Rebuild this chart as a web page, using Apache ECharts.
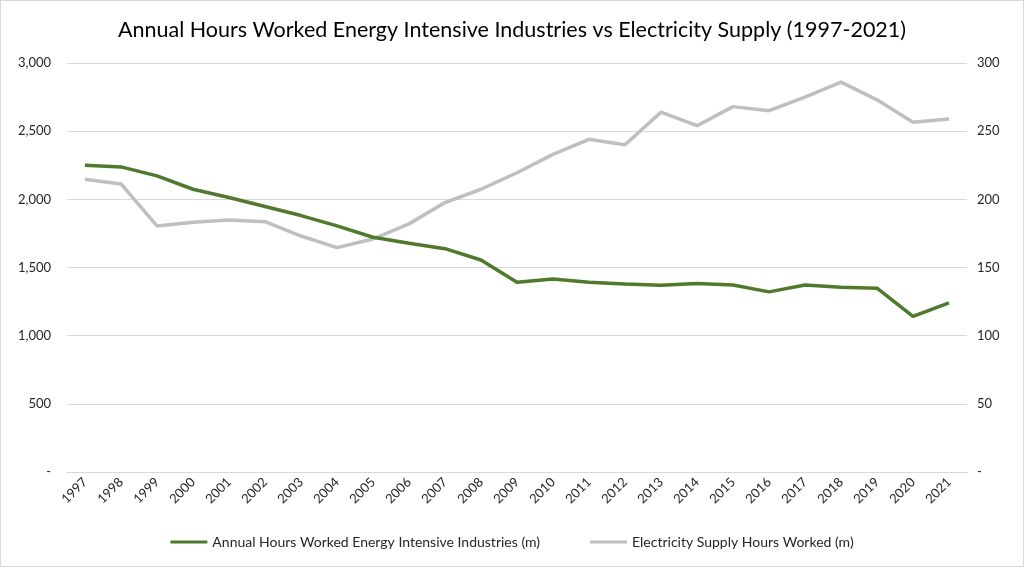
<!DOCTYPE html>
<html>
<head>
<meta charset="utf-8">
<script src="https://cdn.jsdelivr.net/npm/echarts@6/dist/echarts.min.js"></script>
<style>
html,body{margin:0;padding:0;background:#fff;}
#c{width:1022px;height:565px;border:1px solid #d9d9d9;}
</style>
</head>
<body>
<div id="c"></div>
<script>
const years = ['1997','1998','1999','2000','2001','2002','2003','2004','2005','2006','2007','2008','2009','2010','2011','2012','2013','2014','2015','2016','2017','2018','2019','2020','2021'];
const energyIntensive = [2250,2238,2172,2074,2013,1947,1881,1805,1722,1678,1638,1555,1392,1416,1392,1379,1370,1382,1372,1321,1372,1355,1348,1142,1240];
const electricitySupply = [214.7,211.3,180.5,183.2,184.9,183.6,173.1,164.6,170.9,182,197.6,207.4,219.5,233,244,240,264,254,268,265,275,286,273,256.5,259];
const leftTicks = [0,500,1000,1500,2000,2500,3000];
const rightTicks = [0,50,100,150,200,250,300];

const chart = echarts.init(document.getElementById('c'));
const font = 'Lato, "Open Sans", sans-serif';
chart.setOption({
  animation:false,
  textStyle:{fontFamily:font},
  title:{text:'Annual Hours Worked Energy Intensive Industries vs Electricity Supply (1997-2021)',left:'center',top:13,
    textStyle:{fontFamily:font,fontSize:21.5,fontWeight:'normal',color:'#000'}},
  legend:{bottom:12,left:'center',itemWidth:37,itemHeight:3,itemGap:50,icon:'rect',
    textStyle:{fontFamily:font,fontSize:14,color:'#262626'},
    data:['Annual Hours Worked Energy Intensive Industries (m)','Electricity Supply Hours Worked (m)']},
  grid:{left:66,right:56,top:62,bottom:94,containLabel:false},
  xAxis:{type:'category',data:years,boundaryGap:true,
    axisLine:{show:true,lineStyle:{color:'#d9d9d9'}},axisTick:{show:false},
    axisLabel:{rotate:45,color:'#262626',fontSize:13,margin:8,interval:0}},
  yAxis:[
    {type:'value',min:leftTicks[0],max:leftTicks[leftTicks.length-1],interval:500,
     axisLine:{show:false},axisTick:{show:false},
     splitLine:{lineStyle:{color:'#d9d9d9'}},
     axisLabel:{color:'#262626',fontSize:13,margin:16,formatter:v=>v===0?'-':v.toLocaleString('en-US')}},
    {type:'value',min:rightTicks[0],max:rightTicks[rightTicks.length-1],interval:50,
     axisLine:{show:false},axisTick:{show:false},splitLine:{show:false},
     axisLabel:{color:'#262626',fontSize:13,margin:10,formatter:v=>v===0?'-':String(v)}}
  ],
  series:[
    {name:'Annual Hours Worked Energy Intensive Industries (m)',type:'line',data:energyIntensive,yAxisIndex:0,
     symbol:'none',lineStyle:{width:3.5,color:'#4f7a2b'},itemStyle:{color:'#4f7a2b'},z:3},
    {name:'Electricity Supply Hours Worked (m)',type:'line',data:electricitySupply,yAxisIndex:1,
     symbol:'none',lineStyle:{width:3.5,color:'#bfbfbf'},itemStyle:{color:'#bfbfbf'},z:2}
  ]
});
</script>
</body>
</html>
